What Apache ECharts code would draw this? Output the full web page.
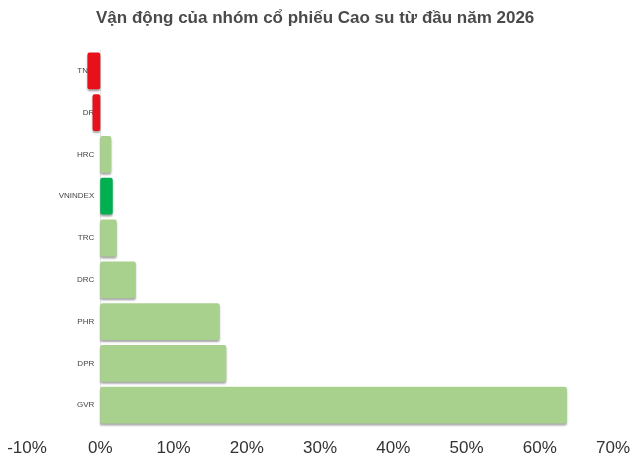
<!DOCTYPE html>
<html><head><meta charset="utf-8">
<script src="https://cdn.jsdelivr.net/npm/echarts@6/dist/echarts.min.js"></script>
<style>html,body{margin:0;padding:0;background:#fff}#c{width:640px;height:464px}</style>
</head><body><div id="c"></div>
<script>
const categories = ['TNG','DR','HRC','VNINDEX','TRC','DRC','PHR','DPR','GVR'];
const values = [-1.75, -1.05, 1.5, 1.7, 2.25, 4.85, 16.3, 17.2, 63.7];
const barColors = ['#e8111b','#e8111b','#a9d18e','#00b050','#a9d18e','#a9d18e','#a9d18e','#a9d18e','#a9d18e'];
const xTicks = [-10, 0, 10, 20, 30, 40, 50, 60, 70];

const gridLeft = 27, gridRight = 27;
const pxPerUnit = (640 - gridLeft - gridRight) / (xTicks[xTicks.length-1] - xTicks[0]);
const zeroOffset = (0 - xTicks[0]) * pxPerUnit;

const chart = echarts.init(document.getElementById('c'));
chart.setOption({
  animation: false,
  title: {
    text: 'Vận động của nhóm cổ phiếu Cao su từ đầu năm 2026',
    left: 96, top: 10, padding: 0,
    textStyle: { fontFamily: 'Liberation Sans, Arial', fontSize: 17, fontWeight: 'bold', color: '#4a4a4a' }
  },
  grid: { left: gridLeft, right: gridRight, top: 50, bottom: 38, containLabel: false, outerBoundsMode: 'none' },
  xAxis: {
    type: 'value', min: xTicks[0], max: xTicks[xTicks.length-1], interval: 10,
    axisLine: { show: false }, axisTick: { show: false }, splitLine: { show: false },
    axisLabel: { formatter: v => v + '%', fontFamily: 'Liberation Sans, Arial', fontSize: 17, color: '#333', margin: 14 }
  },
  yAxis: {
    type: 'category', data: categories, inverse: true,
    offset: -zeroOffset,
    axisLine: { show: true, onZero: false, lineStyle: { color: '#e4e4e4', width: 1 } },
    axisTick: { show: false },
    axisLabel: { fontFamily: 'Liberation Sans, Arial', fontSize: 8, color: '#444', margin: 6 }
  },
  series: [{
    type: 'bar', barCategoryGap: '12%',
    data: values.map((v, i) => ({ value: v, itemStyle: { color: barColors[i] } })),
    itemStyle: { borderRadius: 2, shadowColor: 'rgba(0,0,0,0.35)', shadowBlur: 2, shadowOffsetY: 2, shadowOffsetX: 0 }
  }]
});
</script></body></html>
